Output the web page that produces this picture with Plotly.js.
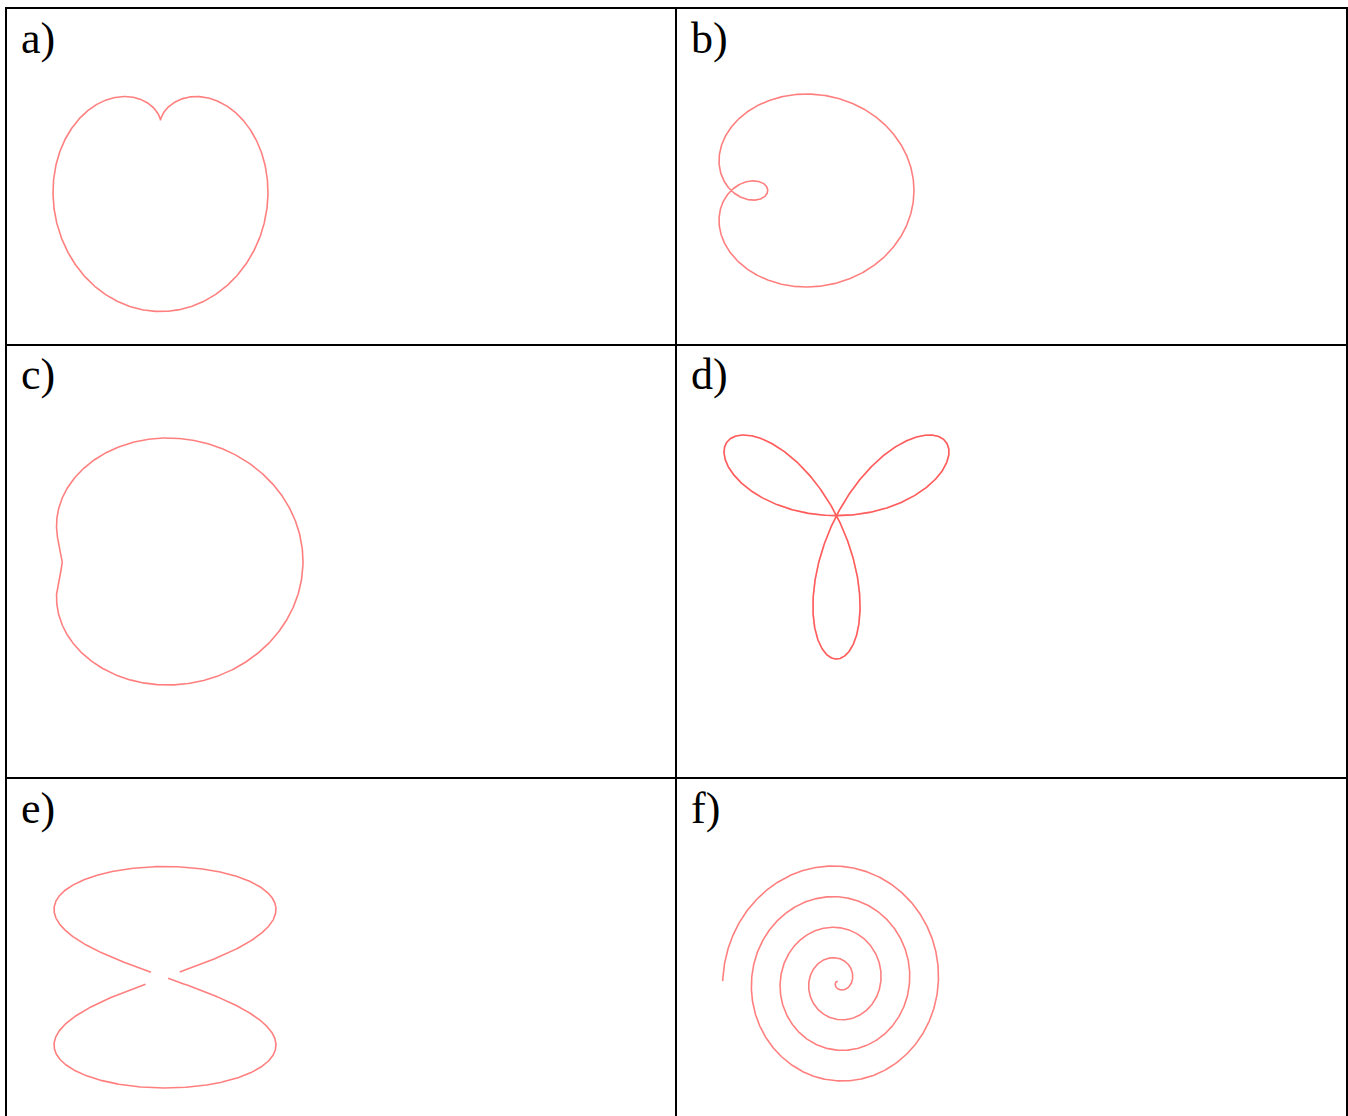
<!DOCTYPE html>
<html>
<head>
<meta charset="utf-8">
<script src="https://cdn.plot.ly/plotly-3.0.1.min.js"></script>
<style>
  html, body { margin: 0; padding: 0; background: #ffffff; }
  #chart { width: 1348px; height: 1116px; }
</style>
</head>
<body>
<div id="chart"></div>
<script>
// Panel labels of the six polar curves
const labels = ['a)', 'b)', 'c)', 'd)', 'e)', 'f)'];

// Limaçons r = c + k·trig(θ) for panels a, b, c
const limaconConst = [1, 1, 1];
const limaconCoef = [-1, 1.5, 0.68];
const limaconTrig = ['sin', 'cos', 'cos'];

// Rose r = sin(nθ) for panel d
const rosePetals = 3;

// Lemniscate r² = −cos 2θ for panel e: angular span of each lobe
const lemniscateLobes = [
  [Math.PI / 4 + 0.0022, 3 * Math.PI / 4 - 0.002],
  [5 * Math.PI / 4 + 0.0039, 7 * Math.PI / 4 - 0.0001]
];

// Archimedean spiral r = θ for panel f
const spiralTurns = 4;
const spiralPhase = Math.PI;

// ---------------------------------------------------------------
const W = 1348, H = 1116;
const LINE = { color: 'rgba(255,0,0,0.5)', width: 1.6 };
const LINE_ROSE = { color: 'rgba(255,0,0,0.4)', width: 1.6 };

function span(a, b, n) {
  const out = [];
  for (let i = 0; i <= n; i++) out.push(a + (b - a) * i / n);
  return out;
}

function polar(thetas, rFn, phase) {
  const ph = phase || 0;
  const x = [], y = [];
  thetas.forEach(t => {
    const r = rFn(t);
    x.push(r * Math.cos(t + ph));
    y.push(r * Math.sin(t + ph));
  });
  return { x, y };
}

// curve pieces per panel (each piece one trace)
const panels = [];
for (let i = 0; i < 3; i++) {
  const f = limaconTrig[i] === 'sin' ? Math.sin : Math.cos;
  panels.push([polar(span(0, 2 * Math.PI, 1200), t => limaconConst[i] + limaconCoef[i] * f(t))]);
}
// rose is traced twice over a full turn
panels.push([
  polar(span(0, Math.PI, 900), t => Math.sin(rosePetals * t)),
  polar(span(Math.PI, 2 * Math.PI, 900), t => Math.sin(rosePetals * t))
]);
panels.push(lemniscateLobes.map(([a, b]) =>
  polar(span(a, b, 900), t => Math.sqrt(Math.max(0, -Math.cos(2 * t))))));
panels.push([polar(span(0, 2 * Math.PI * spiralTurns, 3000), t => t, spiralPhase)]);

// pixel box [x0, x1, y0, y1] that each curve occupies on the page
const boxes = [
  [53, 268, 96.5, 311.5],
  [719, 914, 94, 287],
  [56.5, 303, 438, 685],
  [724, 949, 435, 659],
  [54, 276, 866.5, 1088],
  [722.7, 938.5, 866, 1081]
];

const traces = [];
const layout = {
  width: W, height: H,
  margin: { l: 0, r: 0, t: 0, b: 0 },
  paper_bgcolor: '#ffffff', plot_bgcolor: 'rgba(0,0,0,0)',
  showlegend: false,
  shapes: [], annotations: []
};

const PAD = 6;
panels.forEach((pieces, i) => {
  const n = i + 1;
  const xa = 'x' + (n === 1 ? '' : n), ya = 'y' + (n === 1 ? '' : n);
  let xmin = Infinity, xmax = -Infinity, ymin = Infinity, ymax = -Infinity;
  pieces.forEach(p => {
    p.x.forEach(v => { xmin = Math.min(xmin, v); xmax = Math.max(xmax, v); });
    p.y.forEach(v => { ymin = Math.min(ymin, v); ymax = Math.max(ymax, v); });
    traces.push({ type: 'scatter', mode: 'lines', x: p.x, y: p.y, xaxis: xa, yaxis: ya,
      line: i === 3 ? LINE_ROSE : LINE, hoverinfo: 'skip' });
  });
  const [x0, x1, y0, y1] = boxes[i];
  const sx = (x1 - x0) / (xmax - xmin), sy = (y1 - y0) / (ymax - ymin);
  const axBase = { visible: false, showgrid: false, zeroline: false, fixedrange: true };
  layout['xaxis' + (n === 1 ? '' : n)] = Object.assign({}, axBase, {
    domain: [(x0 - PAD) / W, (x1 + PAD) / W],
    range: [xmin - PAD / sx, xmax + PAD / sx],
    anchor: ya
  });
  layout['yaxis' + (n === 1 ? '' : n)] = Object.assign({}, axBase, {
    domain: [1 - (y1 + PAD) / H, 1 - (y0 - PAD) / H],
    range: [ymin - PAD / sy, ymax + PAD / sy],
    anchor: xa
  });
});

// table frame
const px = v => v / W, py = v => 1 - v / H;
const frame = [
  [6, 8, 6, H + 4], [1347, 8, 1347, H + 4], [676, 8, 676, H + 4],
  [5, 8, 1348, 8], [5, 345, 1348, 345], [5, 778, 1348, 778]
];
frame.forEach(([a, b, c, d]) => layout.shapes.push({
  type: 'line', xref: 'paper', yref: 'paper',
  x0: px(a), y0: py(b), x1: px(c), y1: py(d),
  line: { color: '#000000', width: 2 }
}));

// panel labels
const labelPos = [[19, 38], [689, 38], [19, 375], [689, 375], [19, 808], [689, 808]];
labels.forEach((t, i) => layout.annotations.push({
  text: t, xref: 'paper', yref: 'paper',
  x: px(labelPos[i][0]), y: py(labelPos[i][1]),
  xanchor: 'left', yanchor: 'middle', showarrow: false,
  font: { family: 'Liberation Serif, Times New Roman, serif', size: 44, color: '#000000' }
}));

Plotly.newPlot('chart', traces, layout, { displayModeBar: false, staticPlot: true });
</script>
</body>
</html>
